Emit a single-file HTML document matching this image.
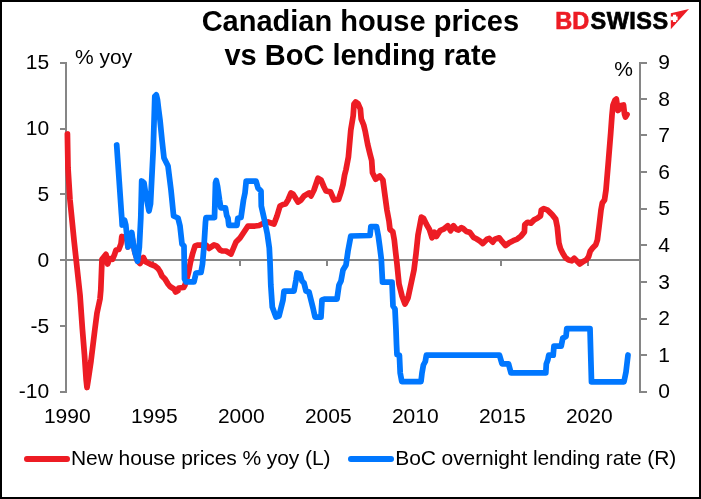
<!DOCTYPE html>
<html><head><meta charset="utf-8">
<style>
html,body{margin:0;padding:0;background:#fff;}
body{width:701px;height:499px;overflow:hidden;}
svg{display:block;will-change:transform;}
text{font-family:"Liberation Sans",sans-serif;}
</style></head>
<body>
<svg width="701" height="499" viewBox="0 0 701 499">
<rect x="0" y="0" width="701" height="499" fill="#fff"/>
<rect x="1" y="1" width="699" height="497" fill="none" stroke="#000" stroke-width="2"/>
<!-- title -->
<g font-weight="bold" font-size="29" text-anchor="middle" fill="#000">
<text x="360.4" y="31">Canadian house prices</text>
<text x="360.6" y="65">vs BoC lending rate</text>
</g>
<!-- logo -->
<text x="555.2" y="29" font-weight="bold" font-size="23.5" fill="#000" stroke="#000" stroke-width="0.7"><tspan fill="#ed1c24" stroke="#ed1c24">BD</tspan><tspan dx="1.3" letter-spacing="0.5">SWISS</tspan></text>
<path d="M670.8,13.2L689,9.1L670.8,29.3Z" fill="#ed1c24"/>
<path d="M673,14.8H676.1V16.5H677.6V20.2H676.1V21.9H673V20.2H670.6V16.5H673Z" fill="#fff"/>
<!-- axes -->
<g stroke="#868686" stroke-width="2" fill="none">
<path d="M66,62V393M60,63H66M60,129H66M60,194H66M60,260H66M60,326H66M60,392H66"/>
<path d="M640,62V393M640,392H647M640,355H647M640,319H647M640,282H647M640,245H647M640,209H647M640,172H647M640,135H647M640,99H647M640,63H647"/>
<path d="M66,260H640M153,260V266M240,260V266M327,260V266M414,260V266M501,260V266M588,260V266"/>
</g>
<!-- left labels -->
<g font-size="21" text-anchor="end" fill="#000" transform="translate(-0.9,0)">
<text x="50" y="69">15</text>
<text x="50" y="135">10</text>
<text x="50" y="201">5</text>
<text x="50" y="267">0</text>
<text x="50" y="333">-5</text>
<text x="50" y="398">-10</text>
</g>
<g font-size="21" fill="#000">
<text x="75" y="64">% yoy</text>
<text x="614.2" y="75.5">%</text>
</g>
<g font-size="21" text-anchor="start" fill="#000" transform="translate(6.2,0)">
<text x="652" y="69">9</text>
<text x="652" y="106">8</text>
<text x="652" y="142">7</text>
<text x="652" y="179">6</text>
<text x="652" y="215">5</text>
<text x="652" y="252">4</text>
<text x="652" y="289">3</text>
<text x="652" y="325">2</text>
<text x="652" y="362">1</text>
<text x="652" y="398">0</text>
</g>
<g font-size="21" text-anchor="middle" fill="#000">
<text x="67.3" y="422.5">1990</text>
<text x="154.3" y="422.5">1995</text>
<text x="241.3" y="422.5">2000</text>
<text x="328.3" y="422.5">2005</text>
<text x="415.3" y="422.5">2010</text>
<text x="502.3" y="422.5">2015</text>
<text x="589.3" y="422.5">2020</text>
</g>
<!-- series -->
<polyline points="67.4,134 68,168 70,200 74,240 80,295 82.4,329 84.5,355 86.2,380 87,387.5 88.5,378 91,361 94.8,330 97,313 100,299 100.8,290 102,259.3 106,254.4 107.6,264 109.7,258.6 112.5,259.3 114.6,254.4 116,250 118.8,249.5 121,243.8 121.8,236.5 126.8,238 128,247 129.5,244 131.8,236 133.3,244 134.8,252 137.5,261 140,263.5 143.4,257.5 145.5,261.7 150,264 155,266 158,268.5 160,271.5 162,276 165,279 168,284 170,286.5 174,289 175.6,292 178,290.5 178.8,288 183.6,287.5 185,285 188.5,272.5 190.5,262 192.5,254 195,246 198,245 206,245 209,248.4 214,245 217,246 220,250 222,250.8 226,251 231,254 236,242 240,238 244,232 248,226 252,226 255,226 259,225.5 262,224 268,222 274,224 277,216 280,206 283,204.5 285.5,204 288,200 291,193 293,194 298,202 301,200 304,196 309,193 311,196 314,190 318,178.3 321,180 324,187 326,191 330.5,191.8 334,200 338.5,199.5 341,192 343,184.5 344.6,175 346,169.6 348.4,157 350.8,130 353.2,115.6 354,104 355.6,102 358,103.6 360.4,109.2 361.2,118.8 363.7,125 365.3,131.7 367.7,144.5 370,154 371.7,160.5 372.5,172.8 375.7,179.2 379.7,176 382.9,180 384.5,192 386.9,209.7 389,221 390,229.5 392.8,231.8 394.3,240 395.6,252 397,264 399,284 402,296 405,304 408,298 411,284 414,270 416,254 418,235 421.4,217.1 423.6,218.5 426.4,224.3 429.3,229.2 432.1,237.8 434.3,232.1 436.4,236.4 440,230.7 443.5,229.2 447.8,225.7 450.7,230.7 453.5,225.7 456.4,229.3 458.5,230 461.5,227.6 463.5,228.8 466.4,231.5 469.9,232.4 473.5,237.4 476.3,238.8 479.9,241 482.8,243.5 487,239.2 489.2,238.5 492.7,242.1 494.9,239.2 499.2,237.8 502,241.4 505.6,245.6 509.2,242.8 513.2,240.7 517.2,239.1 521.2,235.9 524.4,231.9 524.8,224.7 527.6,222.3 530.9,223.1 534.1,219.9 537.3,218.3 540.5,215.9 541.3,210.2 543.7,208.6 547.7,210.2 550.1,212.6 552.5,215.1 555.7,219.1 557.3,227.1 558.1,235.1 558.9,243.1 560.5,248.7 562.9,253.6 565.4,257.6 568.6,260 571.8,260.8 574.2,258.4 576.6,260.8 579.8,264 583,261.6 586.2,260 588.6,256.8 590.2,251.2 592.6,248 595.8,244.7 597.4,239.9 599,227 601,210 602.3,203 604.5,200 606,190 608.6,159 610.7,133 612,115 613,105 615,100.2 616.3,99 618,110.5 619.5,109 621,105.5 623.5,105 624.5,114 625.5,117 627,114.5" fill="none" stroke="#ed1c24" stroke-width="5.75" stroke-linejoin="round" stroke-linecap="round"/>
<polyline points="116.7,145 121.4,213 121.8,218 122.2,225 124.5,220 125.8,225 127.3,240 128,247 129.5,244 131.8,232.5 133.3,244 134.8,252 137.5,261.2 139.3,247.5 140.8,217.5 141.7,181 144,183 146,196 149,211 150.5,204 153.2,150 154.8,96.5 156.3,94.8 157.5,100 158.7,110 160,120 161,130 162,140 164,158 166.5,163 168,166 169.5,178 171,190 173.6,216 178,218 180,226 182,244 184,246 184.5,279 186,281.8 194,281.8 196,273 201,272.5 202.5,264 204,246 205.5,222 206,217.5 214.5,217.5 215.5,183 216.3,180.5 217.5,186 219.5,200 220.8,207.8 225.4,207.8 226.7,215.5 228,218.2 228.8,225.3 237,225.3 237.8,218.2 241,217.5 243.5,200 245,193 246.2,181 256,181 258,188 261,191 261.3,206 264,218 267.3,234 269.3,248 270,262 270.8,285 272.3,307 276,317 279,316 281,308 283,300 284,291 294,291 296,280 297,273 300,274 302,281 304,283 306,291 309,292 311,300 313,308 315,317 321,317 322,300 325,299 337,299 339,285 341,281 343,270 346,265 348,251 350.8,236 370,235.5 370.9,226.5 376.5,226.5 378.3,236 379.8,247 381.3,259 382.5,282 392,282 393,306 395,309 396,330 396.5,344 397,354.5 399.4,355.3 400.2,373 401.8,381.5 421,381.5 422,373 423.4,365 425.3,361.5 426.4,355.2 499.5,355.2 502,363.8 508.5,363.8 511,372.9 545.8,372.9 546.3,364 547.8,360 548.8,355.2 553.2,355.2 554,346.1 561.2,346.1 562.8,338.1 566,336.5 566.8,328.5 590,328.5 591.5,381.8 624,381.8 626,372 628,355" fill="none" stroke="#0077ff" stroke-width="5.75" stroke-linejoin="round" stroke-linecap="round"/>
<!-- legend -->
<line x1="26.9" y1="459" x2="67.1" y2="459" stroke="#ed1c24" stroke-width="5.8" stroke-linecap="round"/>
<text x="71" y="465.3" font-size="21" fill="#000" textLength="259.5" lengthAdjust="spacing">New house prices % yoy (L)</text>
<line x1="350.9" y1="459" x2="391.1" y2="459" stroke="#0077ff" stroke-width="5.8" stroke-linecap="round"/>
<text x="395.3" y="465.3" font-size="21" fill="#000" textLength="281" lengthAdjust="spacing">BoC overnight lending rate (R)</text>
</svg>
</body></html>
